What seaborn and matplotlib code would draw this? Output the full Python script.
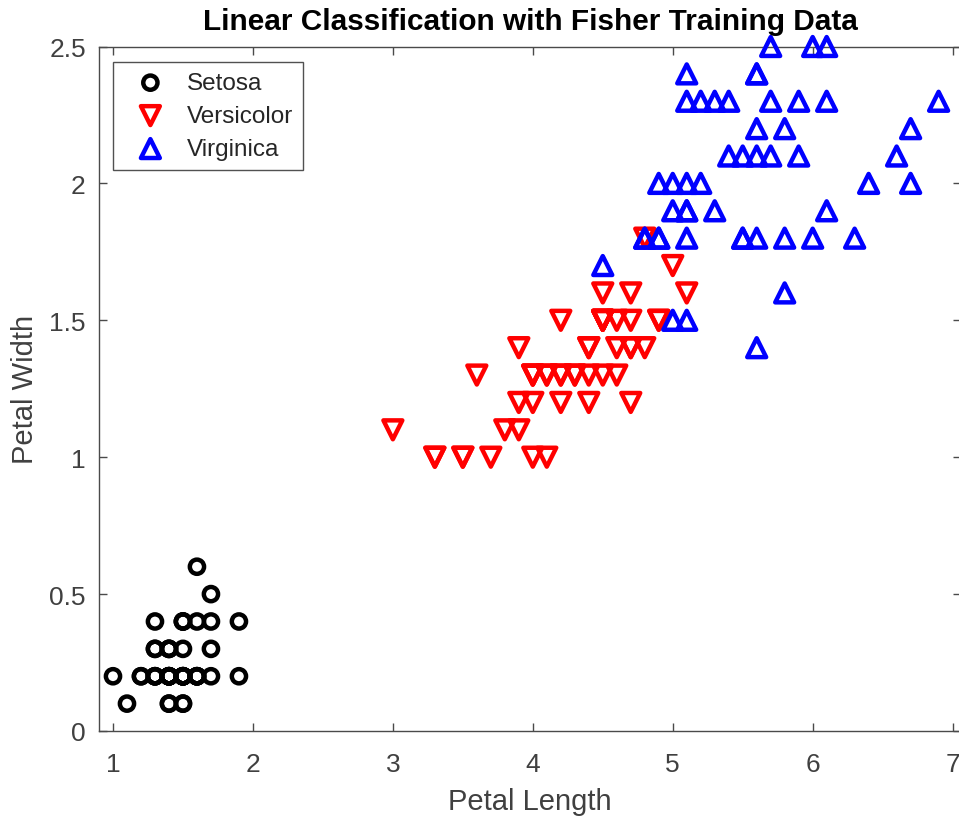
import matplotlib
matplotlib.use("Agg")
import matplotlib.pyplot as plt
import seaborn as sns
import pandas as pd

# Fisher iris data: petal length / petal width
setosa_len = [1.4,1.4,1.3,1.5,1.4,1.7,1.4,1.5,1.4,1.5,1.5,1.6,1.4,1.1,1.2,1.5,1.3,1.4,1.7,1.5,
              1.7,1.5,1.0,1.7,1.9,1.6,1.6,1.5,1.4,1.6,1.6,1.5,1.5,1.4,1.5,1.2,1.3,1.4,1.3,1.5,
              1.3,1.3,1.3,1.6,1.9,1.4,1.6,1.4,1.5,1.4]
setosa_wid = [0.2,0.2,0.2,0.2,0.2,0.4,0.3,0.2,0.2,0.1,0.2,0.2,0.1,0.1,0.2,0.4,0.4,0.3,0.3,0.3,
              0.2,0.4,0.2,0.5,0.2,0.2,0.4,0.2,0.2,0.2,0.2,0.4,0.1,0.2,0.2,0.2,0.2,0.1,0.2,0.2,
              0.3,0.3,0.2,0.6,0.4,0.3,0.2,0.2,0.2,0.2]
versi_len = [4.7,4.5,4.9,4.0,4.6,4.5,4.7,3.3,4.6,3.9,3.5,4.2,4.0,4.7,3.6,4.4,4.5,4.1,4.5,3.9,
             4.8,4.0,4.9,4.7,4.3,4.4,4.8,5.0,4.5,3.5,3.8,3.7,3.9,5.1,4.5,4.5,4.7,4.4,4.1,4.0,
             4.4,4.6,4.0,3.3,4.2,4.2,4.2,4.3,3.0,4.1]
versi_wid = [1.4,1.5,1.5,1.3,1.5,1.3,1.6,1.0,1.3,1.4,1.0,1.5,1.0,1.4,1.3,1.4,1.5,1.0,1.5,1.1,
             1.8,1.3,1.5,1.2,1.3,1.4,1.4,1.7,1.5,1.0,1.1,1.0,1.2,1.6,1.5,1.6,1.5,1.3,1.3,1.3,
             1.2,1.4,1.2,1.0,1.3,1.2,1.3,1.3,1.1,1.3]
virg_len = [6.0,5.1,5.9,5.6,5.8,6.6,4.5,6.3,5.8,6.1,5.1,5.3,5.5,5.0,5.1,5.3,5.5,6.7,6.9,5.0,
            5.7,4.9,6.7,4.9,5.7,6.0,4.8,4.9,5.6,5.8,6.1,6.4,5.6,5.1,5.6,6.1,5.6,5.5,4.8,5.4,
            5.6,5.1,5.1,5.9,5.7,5.2,5.0,5.2,5.4,5.1]
virg_wid = [2.5,1.9,2.1,1.8,2.2,2.1,1.7,1.8,1.8,2.5,2.0,1.9,2.1,2.0,2.4,2.3,1.8,2.2,2.3,1.5,
            2.3,2.0,2.0,1.8,2.1,1.8,1.8,1.8,2.1,1.6,1.9,2.0,2.2,1.5,1.4,2.3,2.4,1.8,1.8,2.1,
            2.4,2.3,1.9,2.3,2.5,2.3,1.9,2.0,2.3,1.8]

species = ["Setosa", "Versicolor", "Virginica"]
colors = ["black", "red", "blue"]
markers = ["o", "v", "^"]
xticks = [1, 2, 3, 4, 5, 6, 7]
yticks = [0, 0.5, 1, 1.5, 2, 2.5]
yticklabels = ["0", "0.5", "1", "1.5", "2", "2.5"]

sns.set_theme(style="white")
plt.rcParams["font.family"] = ["Liberation Sans", "DejaVu Sans"]

W, H = 959, 820
fig = plt.figure(figsize=(W / 100, H / 100), dpi=100)
ax_w = 961 - 99
ax_h = 732 - 47.5
ax = fig.add_axes([99 / W, (H - 732) / H, ax_w / W, ax_h / H])

data_sets = [(setosa_len, setosa_wid), (versi_len, versi_wid), (virg_len, virg_wid)]
sizes = [105, 185, 185]
for (xs, ys), name, col, mk, sz in zip(data_sets, species, colors, markers, sizes):
    df = pd.DataFrame({"x": xs, "y": ys})
    sns.scatterplot(data=df, x="x", y="y", ax=ax, marker=mk, facecolor="none",
                    edgecolor=col, linewidth=3.2, s=sz, label=name, clip_on=False,
                    zorder=3, joinstyle="round")

ax.set_xlim(0.9, 7.06)
ax.set_ylim(0, 2.5)
ax.set_xticks(xticks)
ax.set_xticklabels([str(t) for t in xticks])
ax.set_yticks(yticks)
ax.set_yticklabels(yticklabels)

gray = "#404040"
for s in ax.spines.values():
    s.set_color("#4a4a4a")
    s.set_linewidth(1.0)
    s.set_visible(True)
ax.tick_params(axis="both", which="both", direction="in", length=5.5, width=1.0,
               colors="#4a4a4a", labelsize=19, top=True, right=True,
               bottom=True, left=True, labelcolor=gray)
ax.tick_params(axis="x", pad=15)
ax.tick_params(axis="y", pad=9.5)

ax.set_xlabel("Petal Length", fontsize=21, color=gray, labelpad=8)
ax.set_ylabel("Petal Width", fontsize=21, color=gray, labelpad=7)
ax.set_title("Linear Classification with Fisher Training Data", fontsize=21.4,
             fontweight="bold", color="black", pad=12.5)

leg = ax.legend(loc="upper left",
                bbox_to_anchor=((112.7 - 99) / ax_w, 1 - (63.3 - 47.5) / ax_h),
                frameon=True, fancybox=False, fontsize=17.5, borderpad=0.4,
                handletextpad=0.37, labelspacing=0.45, borderaxespad=0,
                handlelength=2.3, scatterpoints=1)
leg.get_frame().set_edgecolor("#262626")
leg.get_frame().set_linewidth(1.0)
for t in leg.get_texts():
    t.set_color("#262626")

fig.savefig("out.png", dpi=100)
